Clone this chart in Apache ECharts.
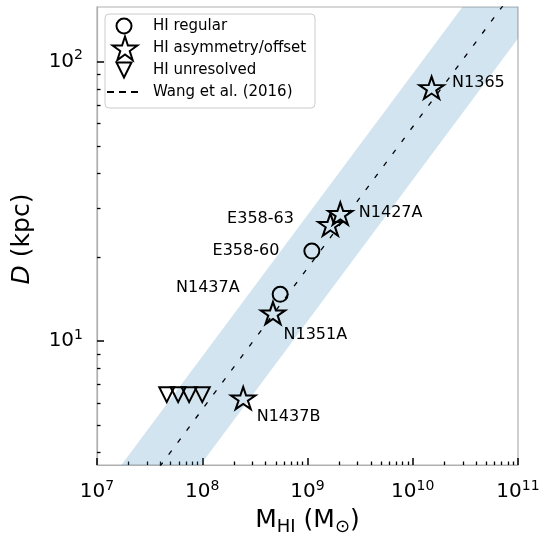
<!DOCTYPE html>
<html><head><meta charset="utf-8">
<script src="https://cdn.jsdelivr.net/npm/echarts@6.0.0/dist/echarts.min.js"></script>
<style>html,body{margin:0;padding:0;background:#fff}#c{width:546px;height:534px}</style>
</head><body><div id="c"></div>
<script>
// ---------------- data ----------------
const regularNames = ['E358-60', 'N1437A'];
const regularMHI   = [1.10e9, 5.5e8];
const regularD     = [21.0, 14.7];

const asymNames = ['N1365', 'N1427A', 'E358-63', 'N1351A', 'N1437B'];
const asymMHI   = [1.51e10, 2.05e9, 1.65e9, 4.7e8, 2.45e8];
const asymD     = [80.7, 28.6, 26.1, 12.6, 6.25];

const unresMHI = [4.6e7, 5.9e7, 7.5e7, 1.0e8];
const unresD   = [6.43, 6.43, 6.43, 6.43];

// Wang et al. (2016) D_HI - M_HI relation: log D = a log M + b, band +/- width (dex in D)
const wangSlope = 0.506;
const wangIntercept = -3.293;
const wangBand = 0.19;
const wangMHI = [1e7, 1e11];

const xTickValues = [1e7, 1e8, 1e9, 1e10, 1e11];
const yTickValues = [10, 100];
const xRange = [1e7, 1e11];
const yRange = [3.6, 157];

const legendNames = ['HI regular', 'HI asymmetry/offset', 'HI unresolved', 'Wang et al. (2016)'];

// ---------------- styling helpers ----------------
const FONT = 'DejaVu Sans';
function wangD(m, shift) { return Math.pow(10, wangSlope * Math.log10(m) + wangIntercept + (shift || 0)); }

function starPts(cx, cy, R) {
  const pts = [];
  for (let i = 0; i < 10; i++) {
    const a = -Math.PI / 2 + i * Math.PI / 5;
    const r = (i % 2) ? R * 0.381966 : R;
    pts.push([cx + r * Math.cos(a), cy + r * Math.sin(a)]);
  }
  return pts;
}
const STAR = 'path://M' + starPts(0, 0, 100).map(p => p[0].toFixed(2) + ',' + p[1].toFixed(2)).join('L') + 'Z';

function minorTicks(lo, hi) {
  const out = [];
  for (let e = lo; e < hi; e++) for (let k = 2; k <= 9; k++) out.push(k * Math.pow(10, e));
  return out;
}
const xMinor = minorTicks(7, 11);
const yMinor = minorTicks(0, 3).filter(v => v >= yRange[0] && v <= yRange[1] && v !== 10 && v !== 100);

function powLabel(v) { return '{b|10}{s|' + Math.round(Math.log10(v)) + '}'; }
const tickRich = {
  b: { fontFamily: FONT, fontSize: 20, lineHeight: 26, color: '#000' },
  s: { fontFamily: FONT, fontSize: 14, lineHeight: 14, verticalAlign: 'top', color: '#000' }
};
const spine = { show: true, lineStyle: { color: '#b0b0b0', width: 1.2 } };
const majorTick = { show: true, inside: true, length: 7, lineStyle: { color: '#000', width: 1.5 } };
const minorTickStyle = { show: true, inside: true, length: 3.5, lineStyle: { color: '#000', width: 1.3 } };

// label placements (style only): [position, dx, dy]
const labelPlace = {
  'N1365':   ['right', 20, -5],
  'N1427A':  ['right', 18, -1],
  'E358-63': ['left', -36, -6],
  'E358-60': ['left', -32, 0],
  'N1437A':  ['left', -40, -6],
  'N1351A':  ['right', 10, 22],
  'N1437B':  ['right', 13, 19]
};

const openStyle = { color: 'rgba(0,0,0,0)', borderColor: '#000', borderWidth: 2, opacity: 1 };
const legendStroke = { fill: 'none', stroke: '#000', lineWidth: 2 };

const labelData = [];
regularNames.forEach((n, i) => labelData.push({ n, v: [regularMHI[i], regularD[i]] }));
asymNames.forEach((n, i) => labelData.push({ n, v: [asymMHI[i], asymD[i]] }));

// legend drawn as graphic elements (layout constants)
const LG = { iconX: 124, textX: 153, rows: [26, 48, 70, 92] };
const legendGraphics = [
  { type: 'rect', z: 10, shape: { x: 105, y: 14, width: 210, height: 94, r: 4 },
    style: { fill: 'rgba(255,255,255,0.85)', stroke: '#cccccc', lineWidth: 1 } },
  { type: 'circle', z: 11, shape: { cx: LG.iconX, cy: LG.rows[0], r: 7.5 }, style: legendStroke },
  { type: 'polygon', z: 11, shape: { points: starPts(LG.iconX + 1, LG.rows[1] + 1.5, 13) }, style: legendStroke },
  { type: 'polygon', z: 11, shape: { points: [[LG.iconX - 7.5, LG.rows[2] - 7.5], [LG.iconX + 7.5, LG.rows[2] - 7.5], [LG.iconX, LG.rows[2] + 7.5]] }, style: legendStroke },
  { type: 'line', z: 11, shape: { x1: 107, y1: LG.rows[3], x2: 140, y2: LG.rows[3] }, style: { stroke: '#000', lineWidth: 2, lineDash: [7, 5] } }
].concat(legendNames.map((t, i) => ({
  type: 'text', z: 11, x: LG.textX, y: LG.rows[i],
  style: { text: t, fontFamily: FONT, fontSize: 15, fill: '#000', align: 'left', verticalAlign: 'middle' }
})));

const chart = echarts.init(document.getElementById('c'), null, { renderer: 'canvas' });
chart.setOption({
  animation: false,
  grid: { left: 97, right: 28, top: 7, bottom: 69, containLabel: false, outerBoundsMode: 'none',
          show: true, borderColor: '#b0b0b0', borderWidth: 1.2, backgroundColor: 'transparent' },
  xAxis: [
    {
      type: 'log', logBase: 10, min: xRange[0], max: xRange[1], position: 'bottom',
      axisLine: spine,
      axisTick: Object.assign({ customValues: xTickValues }, majorTick),
      axisLabel: { customValues: xTickValues, formatter: powLabel, margin: 14, rich: tickRich },
      splitLine: { show: false },
      name: '{n|M}{sub|HI}{n| (M}{sub|⊙}{n|)}',
      nameLocation: 'middle', nameGap: 39,
      nameTextStyle: { rich: {
        n: { fontFamily: FONT, fontSize: 25, lineHeight: 32, color: '#000' },
        sub: { fontFamily: FONT, fontSize: 18, lineHeight: 18, verticalAlign: 'bottom', color: '#000' }
      } }
    },
    {
      type: 'log', logBase: 10, min: xRange[0], max: xRange[1], position: 'bottom',
      axisLine: { show: false },
      axisTick: Object.assign({ customValues: xMinor }, minorTickStyle),
      axisLabel: { show: false }, splitLine: { show: false }
    }
  ],
  yAxis: [
    {
      type: 'log', logBase: 10, min: yRange[0], max: yRange[1], position: 'left',
      axisLine: spine,
      axisTick: Object.assign({ customValues: yTickValues }, majorTick),
      axisLabel: { customValues: yTickValues, formatter: powLabel, margin: 14, rich: tickRich },
      splitLine: { show: false },
      name: '{i|D}{n| (kpc)}',
      nameLocation: 'middle', nameGap: 62,
      nameTextStyle: { padding: [0, 6, 0, 0], rich: {
        i: { fontFamily: FONT, fontSize: 25, fontStyle: 'italic', color: '#000' },
        n: { fontFamily: FONT, fontSize: 25, color: '#000' }
      } }
    },
    {
      type: 'log', logBase: 10, min: yRange[0], max: yRange[1], position: 'left',
      axisLine: { show: false },
      axisTick: Object.assign({ customValues: yMinor }, minorTickStyle),
      axisLabel: { show: false }, splitLine: { show: false }
    }
  ],
  graphic: legendGraphics,
  series: [
    {
      type: 'custom', name: 'band', silent: true, clip: true, z: 1,
      xAxisIndex: 0, yAxisIndex: 0,
      data: [[1e9, 10]],
      renderItem: function (params, api) {
        const x0 = wangMHI[0], x1 = wangMHI[1];
        const pts = [
          api.coord([x0, wangD(x0, -wangBand)]),
          api.coord([x1, wangD(x1, -wangBand)]),
          api.coord([x1, wangD(x1, wangBand)]),
          api.coord([x0, wangD(x0, wangBand)])
        ];
        return { type: 'polygon', shape: { points: pts }, style: { fill: 'rgba(31,119,180,0.2)' } };
      }
    },
    {
      type: 'line', name: legendNames[3], xAxisIndex: 0, yAxisIndex: 0, z: 2,
      data: wangMHI.map(m => [m, wangD(m, 0)]),
      symbol: 'none', clip: true, itemStyle: { color: '#000' },
      lineStyle: { color: '#000', width: 1.3, type: [5, 10] }
    },
    {
      type: 'scatter', name: legendNames[0], xAxisIndex: 0, yAxisIndex: 0, z: 3,
      data: regularMHI.map((m, i) => [m, regularD[i]]),
      symbol: 'circle', symbolSize: 15, itemStyle: openStyle
    },
    {
      type: 'scatter', name: legendNames[1], xAxisIndex: 0, yAxisIndex: 0, z: 3,
      data: asymMHI.map((m, i) => [m, asymD[i]]),
      symbol: STAR, symbolSize: [24.5, 23.3], symbolKeepAspect: true, itemStyle: openStyle
    },
    {
      type: 'scatter', name: legendNames[2], xAxisIndex: 0, yAxisIndex: 0, z: 3,
      data: unresMHI.map((m, i) => [m, unresD[i]]),
      symbol: 'triangle', symbolRotate: 180, symbolSize: 15, itemStyle: openStyle
    },
    {
      type: 'scatter', name: 'labels', xAxisIndex: 0, yAxisIndex: 0, z: 4, silent: true,
      symbolSize: 1, itemStyle: { color: 'rgba(0,0,0,0)', opacity: 1 },
      data: labelData.map(d => {
        const p = labelPlace[d.n];
        return {
          value: d.v,
          label: {
            show: true, formatter: d.n, position: p[0], distance: 0, offset: [p[1], p[2]],
            fontFamily: FONT, fontSize: 16, color: '#000'
          }
        };
      })
    }
  ]
});
</script></body></html>
